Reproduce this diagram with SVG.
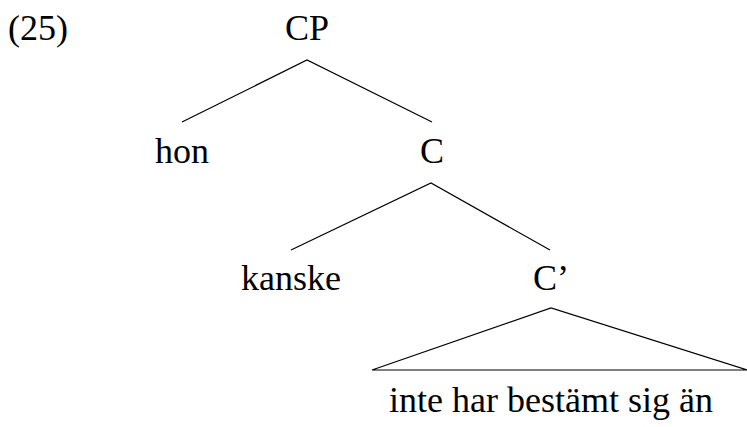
<svg xmlns="http://www.w3.org/2000/svg" width="747" height="427" viewBox="0 0 747 427">
<style>
.e{stroke:#000;stroke-width:1.2;fill:none}
</style>
<rect width="747" height="427" fill="#fff"/>
<g font-family="Liberation Serif" font-size="36" fill="#000">
<g id="label"><text x="8" y="40">(25)</text></g>
<g id="CP"><text x="307" y="40" text-anchor="middle">CP</text></g>
<g id="hon"><text x="182" y="163" text-anchor="middle">hon</text></g>
<g id="C"><text x="432" y="163" text-anchor="middle">C</text></g>
<g id="kanske"><text x="291" y="290" text-anchor="middle">kanske</text></g>
<g id="Cbar"><text x="551" y="290" text-anchor="middle">C’</text></g>
<g id="yield"><text x="551" y="412" text-anchor="middle">inte har bestämt sig än</text></g>
</g>
<g id="connectors">
<path class="e" d="M182 122L307 60L432 122"/>
<path class="e" d="M291 250L431 183L550 250"/>
<path class="e" d="M372 370L551 308L747 370Z"/>
</g>
</svg>
